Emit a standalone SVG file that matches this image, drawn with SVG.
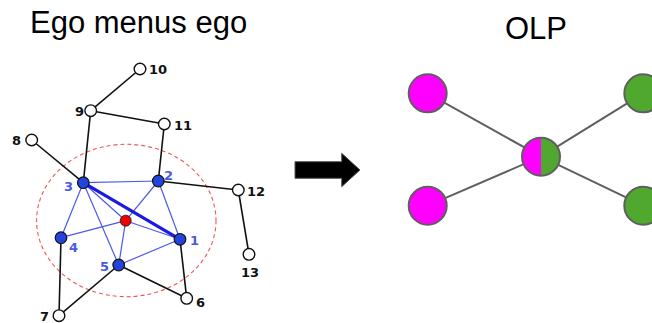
<svg xmlns="http://www.w3.org/2000/svg" width="652" height="323" viewBox="0 0 652 323">
<style>
.title{font-family:"Liberation Sans",Arial,sans-serif;font-size:31px;fill:#000}
.lb{font-family:"DejaVu Sans",sans-serif;font-size:13px;fill:#111;font-weight:bold}
.lbb{font-family:"DejaVu Sans",sans-serif;font-size:13px;fill:#4a5ae0;font-weight:bold}
.ke{stroke:#111;stroke-width:1.6;fill:none}
.be{stroke:#4a5ae8;stroke-width:1.2;fill:none}
.wn{fill:#fff;stroke:#111;stroke-width:1.4}
.bn{fill:#2244dd;stroke:#111;stroke-width:1.2}
.ol{stroke:#5f5f5f;stroke-width:2;fill:none}
.on{stroke:#5f5f5f;stroke-width:2}
</style>
<rect width="652" height="323" fill="#fff"/>
<text class="title" x="30" y="33">Ego menus ego</text>
<text class="title" x="505" y="39">OLP</text>

<g id="connectors">
<ellipse cx="126.3" cy="220.5" rx="89.7" ry="76.2" fill="none" stroke="#ee5555" stroke-width="1.1" stroke-dasharray="4,3"/>
<line class="ke" x1="140" y1="69" x2="90.7" y2="110.7"/>
<line class="ke" x1="90.7" y1="110.7" x2="164.3" y2="124"/>
<line class="ke" x1="90.7" y1="110.7" x2="83.3" y2="182.7"/>
<line class="ke" x1="164.3" y1="124" x2="158.3" y2="181"/>
<line class="ke" x1="31.7" y1="140" x2="83.3" y2="182.7"/>
<line class="ke" x1="158.3" y1="181" x2="238.3" y2="190"/>
<line class="ke" x1="238.3" y1="190" x2="249" y2="254.3"/>
<line class="ke" x1="61" y1="237.7" x2="59" y2="315.7"/>
<line class="ke" x1="59" y1="315.7" x2="118.7" y2="265"/>
<line class="ke" x1="118.7" y1="265" x2="186.7" y2="298.3"/>
<line class="ke" x1="180" y1="239.3" x2="186.7" y2="298.3"/>
<line class="be" x1="83.3" y1="182.7" x2="158.3" y2="181"/>
<line class="be" x1="83.3" y1="182.7" x2="61" y2="237.7"/>
<line class="be" x1="83.3" y1="182.7" x2="118.7" y2="265"/>
<line class="be" x1="83.3" y1="182.7" x2="125.7" y2="220.7"/>
<line class="be" x1="158.3" y1="181" x2="125.7" y2="220.7"/>
<line class="be" x1="158.3" y1="181" x2="180" y2="239.3"/>
<line class="be" x1="61" y1="237.7" x2="125.7" y2="220.7"/>
<line class="be" x1="125.7" y1="220.7" x2="118.7" y2="265"/>
<line class="be" x1="125.7" y1="220.7" x2="180" y2="239.3"/>
<line class="be" x1="118.7" y1="265" x2="180" y2="239.3"/>
<line x1="83.3" y1="182.7" x2="180" y2="239.3" stroke="#1a1ae0" stroke-width="3.2"/>
<line class="ol" x1="427.7" y1="93.3" x2="541" y2="156.7"/>
<line class="ol" x1="427.7" y1="205.7" x2="541" y2="156.7"/>
<line class="ol" x1="643.3" y1="93.3" x2="541" y2="156.7"/>
<line class="ol" x1="643.3" y1="205.7" x2="541" y2="156.7"/>
</g>

<g id="n10"><circle class="wn" cx="140" cy="69" r="5.8"/><text class="lb" x="149" y="74">10</text></g>
<g id="n9"><circle class="wn" cx="90.7" cy="110.7" r="5.8"/><text class="lb" x="75" y="116">9</text></g>
<g id="n11"><circle class="wn" cx="164.3" cy="124" r="5.8"/><text class="lb" x="174" y="129.5">11</text></g>
<g id="n8"><circle class="wn" cx="31.7" cy="140" r="5.8"/><text class="lb" x="12" y="145">8</text></g>
<g id="n12"><circle class="wn" cx="238.3" cy="190" r="5.8"/><text class="lb" x="247" y="196">12</text></g>
<g id="n13"><circle class="wn" cx="249" cy="254.3" r="5.8"/><text class="lb" x="241" y="277">13</text></g>
<g id="n6"><circle class="wn" cx="186.7" cy="298.3" r="5.8"/><text class="lb" x="196" y="307">6</text></g>
<g id="n7"><circle class="wn" cx="59" cy="315.7" r="5.8"/><text class="lb" x="40" y="321">7</text></g>
<g id="n3"><circle class="bn" cx="83.3" cy="182.7" r="5.8"/><text class="lbb" x="64" y="191">3</text></g>
<g id="n2"><circle class="bn" cx="158.3" cy="181" r="5.8"/><text class="lbb" x="164" y="180">2</text></g>
<g id="n4"><circle class="bn" cx="61" cy="237.7" r="5.8"/><text class="lbb" x="69" y="252">4</text></g>
<g id="n1"><circle class="bn" cx="180" cy="239.3" r="5.8"/><text class="lbb" x="190" y="245">1</text></g>
<g id="n5"><circle class="bn" cx="118.7" cy="265" r="5.8"/><text class="lbb" x="100" y="271">5</text></g>
<g id="nc"><circle cx="125.7" cy="220.7" r="5.5" fill="#ee0000" stroke="#111" stroke-width="0.8"/></g>

<g id="arrow"><polygon points="295,161.7 341.7,161.7 341.7,153.3 360,170 341.7,186.7 341.7,178.3 295,178.3" fill="#000" stroke="#555" stroke-width="1"/></g>

<g id="m1"><circle class="on" cx="427.7" cy="93.3" r="19" fill="#ff00ff"/></g>
<g id="m2"><circle class="on" cx="427.7" cy="205.7" r="19" fill="#ff00ff"/></g>
<g id="g1"><circle class="on" cx="643.3" cy="93.3" r="19" fill="#50a82e"/></g>
<g id="g2"><circle class="on" cx="643.3" cy="205.7" r="19" fill="#50a82e"/></g>
<g id="center">
<path d="M541,137.7 A19,19 0 0 0 541,175.7 Z" fill="#ff00ff"/>
<path d="M541,137.7 A19,19 0 0 1 541,175.7 Z" fill="#50a82e"/>
<circle class="on" cx="541" cy="156.7" r="19" fill="none"/>
</g>
</svg>
